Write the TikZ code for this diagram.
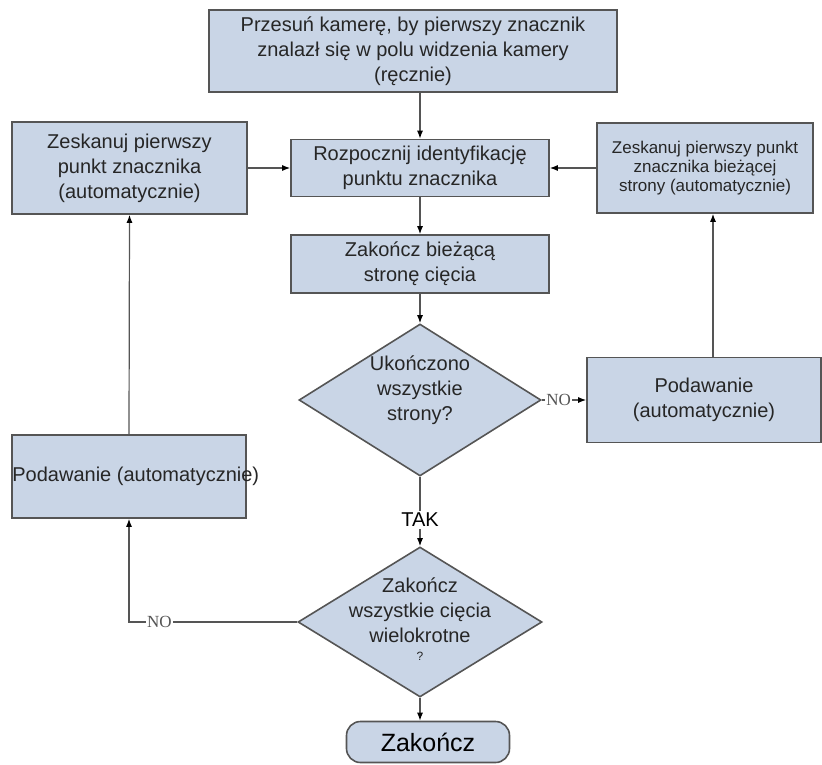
\documentclass[tikz,border=0pt]{standalone}
\usepackage{fontspec}
\setmainfont{Liberation Sans}
\newfontfamily\nofont{Liberation Serif}
\usetikzlibrary{shapes}
\usetikzlibrary{arrows.meta}
\definecolor{boxfill}{RGB}{201,213,230}
\definecolor{boxline}{RGB}{85,85,85}
\tikzset{
    stepbox/.style = {rectangle, line width=1.6pt, draw=boxline, fill=boxfill, align=center, inner sep=0pt, font=\fontsize{20}{25}\selectfont, text=black!85},
    smallbox/.style = {stepbox, font=\fontsize{17}{19}\selectfont},
    decision/.style = {diamond, line width=1.6pt, draw=boxline, fill=boxfill, inner sep=0pt, minimum width=242pt, minimum height=152pt},
    dectext/.style = {align=center, inner sep=0pt, font=\fontsize{20}{25}\selectfont, text=black!85},
    endbox/.style = {rectangle, rounded corners=14pt, line width=1.6pt, draw=boxline, fill=boxfill, font=\fontsize{25}{25}\selectfont, text=black},
    edgen/.style = {-{Latex[length=8pt,width=6pt,black]}, line width=1.2pt, boxline},
    nolabel/.style = {fill=white, inner sep=1pt, text=boxline, font=\nofont\fontsize{17}{17}\selectfont},
    taklabel/.style = {fill=white, inner sep=2pt, text=black, font=\fontsize{20}{20}\selectfont}
}

\begin{document}
\begin{tikzpicture}[x=1pt, y=-1pt]
\node[stepbox, minimum width=408pt, minimum height=82pt] at (413, 51) (move) {Przesuń kamerę, by pierwszy znacznik\\znalazł się w polu widzenia kamery\\(ręcznie)};
\node[stepbox, minimum width=258pt, minimum height=57pt] at (420, 168) (start) {Rozpocznij identyfikację\\punktu znacznika};
\node[stepbox, minimum width=258pt, minimum height=58pt] at (420, 264) (cut) {Zakończ bieżącą\\stronę cięcia};
\node[decision, label={[dectext, yshift=10pt]center:{Ukończono\\wszystkie\\strony?}}] at (420, 400) (dec1) {};
\node[decision, minimum width=244pt, minimum height=150pt, label={[dectext, yshift=3pt]center:{Zakończ\\wszystkie cięcia\\wielokrotne\\[-7pt]{\fontsize{12}{12}\selectfont ?}}}] at (420, 622) (dec2) {};
\node[endbox, minimum width=163pt, minimum height=41pt] at (428, 742) (end) {Zakończ};
%
\node[stepbox, minimum width=235pt, minimum height=92pt] at (129.5, 168) (scanL) {Zeskanuj pierwszy\\punkt znacznika\\(automatycznie)};
\node[stepbox, minimum width=234pt, minimum height=83pt, label={[anchor=west, inner sep=1pt, font=\fontsize{20}{25}\selectfont, text=black!85]west:Podawanie (automatycznie)}] at (129, 476.5) (feedL) {};
\node[smallbox, minimum width=216pt, minimum height=90pt] at (705, 168) (scanR) {Zeskanuj pierwszy punkt\\znacznika bieżącej\\strony (automatycznie)};
\node[stepbox, minimum width=234pt, minimum height=85pt] at (704, 400) (feedR) {Podawanie\\(automatycznie)};
%
\draw[edgen] (move.south -| start.north) -- (start.north);
\draw[edgen] (start.south) -- (cut.north);
\draw[edgen] (cut.south) -- (dec1.north);
\draw[edgen] (dec1.south) -- node[taklabel, pos=0.62] {TAK} (dec2.north);
\draw[edgen] (dec2.south) -- (dec2.south |- end.north);
\draw[edgen] (dec1.east) -- node[nolabel, pos=0.38] {NO} (feedR.west);
\draw[edgen] ([xshift=9pt]feedR.north) -- ([xshift=9pt]feedR.north |- scanR.south);
\draw[edgen] (scanR.west) -- (start.east);
\draw[edgen] (dec2.west) -| node[nolabel, pos=0.41] {NO} (feedL.south);
\draw[edgen] (feedL.north) -- (scanL.south);
\draw[edgen] (scanL.east) -- (start.west);

\path[use as bounding box] (0, 0) rectangle (822, 765);
\end{tikzpicture}
\end{document}
